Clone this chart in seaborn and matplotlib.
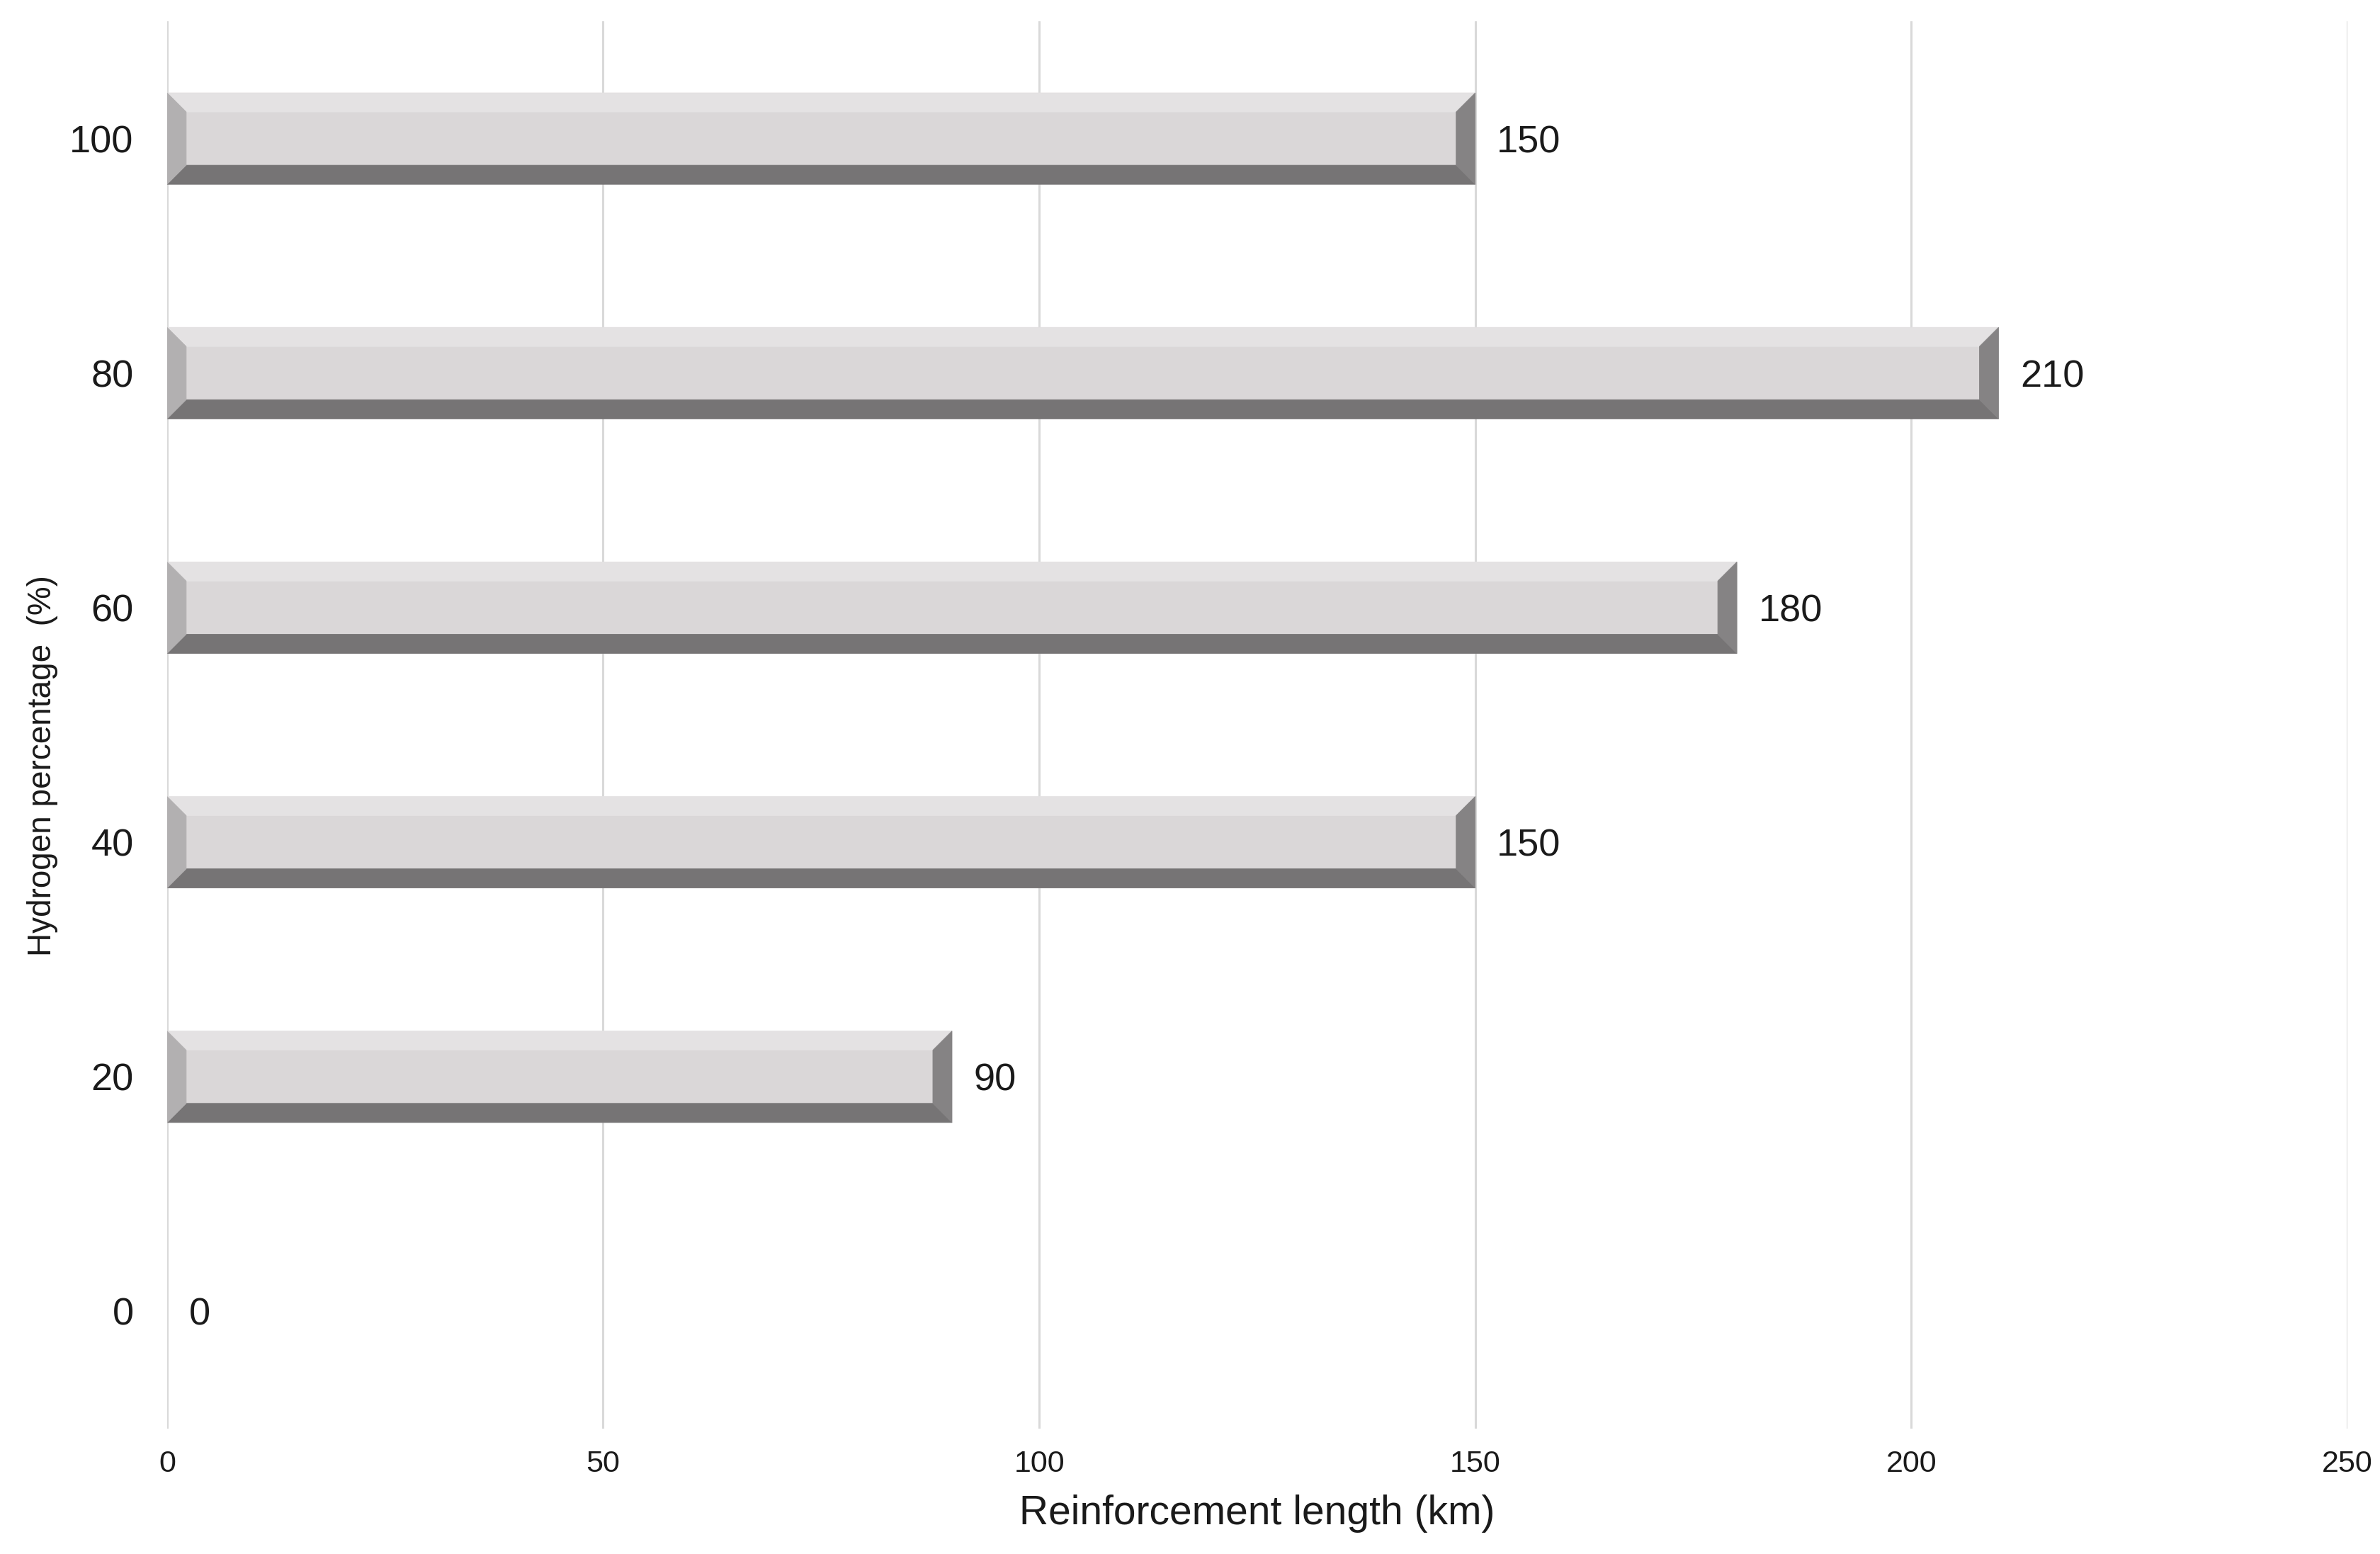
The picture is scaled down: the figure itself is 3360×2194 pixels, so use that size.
import numpy as np
import pandas as pd
import seaborn as sns
import matplotlib.pyplot as plt
from matplotlib.patches import Polygon

# datos
hydrogen_pct = ['0', '20', '40', '60', '80', '100']
reinforcement_km = [0, 90, 150, 180, 210, 150]
order_top_down = ['100', '80', '60', '40', '20', '0']
x_ticks = [0, 50, 100, 150, 200, 250]

# colores del bisel
FACE = '#dad7d8'
TOP = '#e4e2e3'
LEFT = '#b2b0b1'
RIGHT = '#858384'
BOTTOM = '#767475'
BEVEL_PX = 27

sns.set_theme(style='whitegrid')
plt.rcParams['font.family'] = ['Liberation Sans', 'DejaVu Sans']

df = pd.DataFrame({'pct': hydrogen_pct, 'km': reinforcement_km})

DPI = 200
fig = plt.figure(figsize=(3360 / DPI, 2194 / DPI), dpi=DPI)
ax = fig.add_axes([0.0702, 0.0807, 0.9863 - 0.0702, 0.9863 - 0.0807])

sns.barplot(data=df, x='km', y='pct', order=order_top_down, orient='h',
            color=FACE, saturation=1, width=0.39, ax=ax, zorder=2,
            linewidth=0)

ax.set_xlim(0, 250)
ax.set_ylim(len(order_top_down) - 0.5, -0.5)
ax.set_xticks(x_ticks)
ax.grid(axis='x', color='#d9d9d9', linewidth=1.1, zorder=0)
ax.grid(axis='y', visible=False)
ax.set_axisbelow(True)
for s in ax.spines.values():
    s.set_visible(False)

ax.tick_params(axis='x', length=0, pad=11, labelsize=15.5, labelcolor='#1a1a1a')
ax.tick_params(axis='y', length=0, pad=17, labelsize=19.5, labelcolor='#1a1a1a')
ax.set_xlabel('Reinforcement length (km)', fontsize=20.5, color='#1a1a1a', labelpad=8)
ax.set_ylabel('Hydrogen percentage  (%)', fontsize=16.5, color='#1a1a1a')
ax.yaxis.set_label_coords(-0.050, 0.471)

# bisel: tamaño en unidades de datos
ax_w = fig.get_figwidth() * DPI * ax.get_position().width
ax_h = fig.get_figheight() * DPI * ax.get_position().height
dx = BEVEL_PX * 250 / ax_w
dy = BEVEL_PX * len(order_top_down) / ax_h

for p in ax.patches:
    w = p.get_width()
    if w <= 0:
        continue
    x0 = p.get_x()
    x1 = x0 + w
    yt = p.get_y()
    yb = yt + p.get_height()
    shapes = [
        ([(x0, yt), (x1, yt), (x1 - dx, yt + dy), (x0 + dx, yt + dy)], TOP),
        ([(x0, yb), (x1, yb), (x1 - dx, yb - dy), (x0 + dx, yb - dy)], BOTTOM),
        ([(x0, yt), (x0 + dx, yt + dy), (x0 + dx, yb - dy), (x0, yb)], LEFT),
        ([(x1, yt), (x1 - dx, yt + dy), (x1 - dx, yb - dy), (x1, yb)], RIGHT),
    ]
    for pts, c in shapes:
        ax.add_patch(Polygon(pts, closed=True, facecolor=c, edgecolor=c,
                             linewidth=0.3, zorder=3))

etiquetas = ax.bar_label(ax.containers[0], labels=[str(v) for v in
                         df.set_index('pct').loc[order_top_down, 'km']],
                         padding=11, fontsize=19.5, color='#1a1a1a')
for t in etiquetas:
    t.set_va('center_baseline')

fig.savefig('out.png', dpi=DPI)
